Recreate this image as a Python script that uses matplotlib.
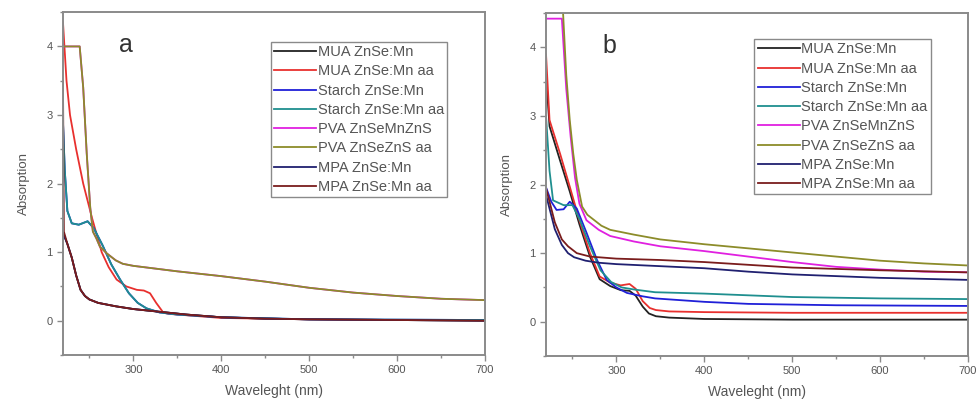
import numpy as np
import matplotlib
matplotlib.use("Agg")
import matplotlib.pyplot as plt
from matplotlib.ticker import MultipleLocator

plt.rcParams['font.family'] = ['Liberation Sans', 'DejaVu Sans']

labels = ["MUA ZnSe:Mn", "MUA ZnSe:Mn aa", "Starch ZnSe:Mn", "Starch ZnSe:Mn aa",
          "PVA ZnSeMnZnS", "PVA ZnSeZnS aa", "MPA ZnSe:Mn", "MPA ZnSe:Mn aa"]
colors = ["#222222", "#e8302e", "#2020d8", "#1f8f8f",
          "#e020e0", "#8c8c2a", "#202070", "#7a1c1c"]

# ---- panel a (wavelength nm, absorption) ----
a_dark_x = [220, 225, 230, 235, 240, 245, 250, 260, 280, 300, 330, 360, 400, 450, 500, 600, 700]
a_dark_y = [1.28, 1.12, 0.92, 0.66, 0.45, 0.36, 0.31, 0.26, 0.21, 0.17, 0.13, 0.09, 0.05, 0.03, 0.02, 0.01, 0.0]
a_mpaaa_x = [220, 221, 225, 230, 235, 240, 245, 250, 260, 280, 300, 330, 360, 400, 450, 500, 600, 700]
a_mpaaa_y = [3.5, 1.3, 1.12, 0.92, 0.66, 0.45, 0.36, 0.31, 0.26, 0.21, 0.17, 0.13, 0.09, 0.05, 0.03, 0.02, 0.01, 0.0]
a_red_x = [220, 224, 228, 235, 243, 253, 264, 272, 281, 292, 304, 312, 319, 326, 334, 340, 360, 400, 500, 600, 700]
a_red_y = [4.35, 3.5, 3.0, 2.5, 2.0, 1.5, 1.0, 0.78, 0.6, 0.5, 0.45, 0.44, 0.4, 0.26, 0.12, 0.1, 0.08, 0.04, 0.02, 0.01, 0.01]
a_starch_x = [220, 222, 225, 230, 238, 248, 255, 265, 275, 285, 295, 305, 315, 330, 350, 400, 500, 700]
a_starch_y = [2.9, 2.2, 1.6, 1.42, 1.4, 1.45, 1.35, 1.1, 0.82, 0.6, 0.4, 0.26, 0.18, 0.12, 0.09, 0.05, 0.02, 0.01]
a_pva_x = [220, 239, 243, 247, 251, 254, 258, 262, 270, 280, 288, 300, 350, 400, 450, 500, 550, 600, 650, 700]
a_pva_y = [4.0, 4.0, 3.4, 2.44, 1.65, 1.3, 1.2, 1.08, 0.98, 0.88, 0.83, 0.8, 0.72, 0.65, 0.57, 0.48, 0.41, 0.36, 0.32, 0.3]

# ---- panel b ----
b_mua_x = [220, 224, 236, 247, 258, 270, 281, 293, 305, 315, 322, 330, 337, 345, 360, 400, 500, 700]
b_mua_y = [3.6, 2.85, 2.35, 1.9, 1.42, 0.95, 0.62, 0.52, 0.46, 0.45, 0.38, 0.22, 0.12, 0.08, 0.06, 0.04, 0.03, 0.03]
b_muaaa_x = [220, 224, 236, 247, 258, 270, 281, 293, 305, 315, 322, 330, 338, 345, 360, 400, 500, 700]
b_muaaa_y = [3.9, 2.94, 2.45, 1.97, 1.48, 1.0, 0.66, 0.57, 0.53, 0.55, 0.48, 0.3, 0.2, 0.17, 0.15, 0.14, 0.13, 0.13]
b_starch_x = [220, 226, 232, 240, 247, 255, 266, 278, 289, 300, 312, 330, 344, 400, 450, 550, 700]
b_starch_y = [1.96, 1.75, 1.63, 1.64, 1.75, 1.65, 1.3, 0.9, 0.61, 0.5, 0.42, 0.37, 0.34, 0.29, 0.26, 0.24, 0.23]
b_starchaa_x = [220, 224, 228, 240, 250, 258, 270, 282, 294, 306, 320, 344, 400, 500, 600, 700]
b_starchaa_y = [3.0, 2.2, 1.77, 1.7, 1.7, 1.5, 1.1, 0.75, 0.58, 0.5, 0.47, 0.43, 0.41, 0.36, 0.34, 0.33]
b_pva_x = [220, 238, 243, 248, 253, 258, 266, 280, 293, 320, 350, 400, 450, 500, 550, 600, 650, 700]
b_pva_y = [4.42, 4.42, 3.4, 2.7, 2.1, 1.72, 1.48, 1.34, 1.25, 1.17, 1.1, 1.03, 0.95, 0.87, 0.8, 0.76, 0.73, 0.72]
b_pvaaa_x = [220, 239, 243, 247, 251, 255, 261, 267, 274, 283, 293, 320, 350, 400, 450, 500, 550, 600, 650, 700]
b_pvaaa_y = [4.6, 4.6, 3.6, 2.94, 2.45, 2.07, 1.68, 1.56, 1.49, 1.4, 1.34, 1.27, 1.2, 1.13, 1.07, 1.01, 0.95, 0.89, 0.85, 0.82]
b_mpa_x = [220, 225, 230, 238, 245, 252, 265, 280, 300, 350, 400, 450, 500, 600, 700]
b_mpa_y = [1.85, 1.6, 1.35, 1.12, 1.0, 0.94, 0.89, 0.86, 0.84, 0.81, 0.78, 0.73, 0.69, 0.64, 0.61]
b_mpaaa_x = [220, 225, 230, 238, 245, 255, 270, 300, 350, 400, 450, 500, 600, 700]
b_mpaaa_y = [1.95, 1.7, 1.45, 1.2, 1.1, 1.0, 0.95, 0.92, 0.9, 0.87, 0.83, 0.79, 0.75, 0.72]

panel_a = [(a_dark_x, a_dark_y), (a_red_x, a_red_y), (a_starch_x, a_starch_y),
           (a_starch_x, a_starch_y), (a_pva_x, a_pva_y), (a_pva_x, a_pva_y),
           (a_dark_x, a_dark_y), (a_mpaaa_x, a_mpaaa_y)]
panel_b = [(b_mua_x, b_mua_y), (b_muaaa_x, b_muaaa_y), (b_starch_x, b_starch_y),
           (b_starchaa_x, b_starchaa_y), (b_pva_x, b_pva_y), (b_pvaaa_x, b_pvaaa_y),
           (b_mpa_x, b_mpa_y), (b_mpaaa_x, b_mpaaa_y)]

fig = plt.figure(figsize=(9.78, 4.05), dpi=100)
ax_a = fig.add_axes([0.0644, 0.1235, 0.4315, 0.8465])
ax_b = fig.add_axes([0.5583, 0.121, 0.4315, 0.8465])

gray = "#8a8a8a"
txt = "#555555"

for ax, series, letter, anchor in [(ax_a, panel_a, "a", (0.91, 0.913)),
                                   (ax_b, panel_b, "b", (0.912, 0.924))]:
    for (x, y), c, lab in zip(series, colors, labels):
        ax.plot(x, y, color=c, lw=1.3, label=lab)
    ax.set_xlim(220, 700)
    ax.set_ylim(-0.5, 4.5)
    ax.xaxis.set_major_locator(MultipleLocator(100))
    ax.xaxis.set_minor_locator(MultipleLocator(50))
    ax.yaxis.set_major_locator(MultipleLocator(1))
    ax.yaxis.set_minor_locator(MultipleLocator(0.5))
    for s in ax.spines.values():
        s.set_color(gray)
        s.set_linewidth(1.4)
    ax.tick_params(which='both', colors=gray, labelcolor=txt, labelsize=8, width=1)
    ax.tick_params(which='major', length=4)
    ax.tick_params(which='minor', length=2.5)
    ax.set_xlabel("Waveleght (nm)", color=txt, fontsize=10, labelpad=6)
    ax.set_ylabel("Absorption", color=txt, fontsize=9.5, labelpad=12)
    ax.text(0.15, 0.905, letter, transform=ax.transAxes, fontsize=18,
            color="#333333", ha='center', va='center')
    leg = ax.legend(loc='upper right', bbox_to_anchor=anchor, fontsize=10.5,
                    handlelength=2.9, handletextpad=0.1, labelspacing=0.36,
                    borderpad=0.22, borderaxespad=0, fancybox=False,
                    framealpha=1, edgecolor=gray)
    leg.get_frame().set_linewidth(1.0)
    for t in leg.get_texts():
        t.set_color(txt)

fig.savefig("out.png", dpi=100)
